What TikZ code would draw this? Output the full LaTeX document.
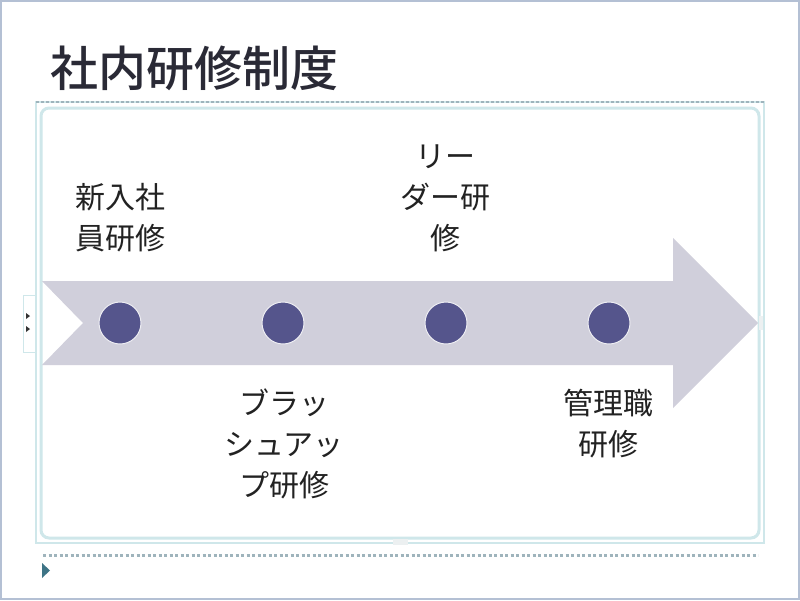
\documentclass[tikz,border=0pt]{standalone}
\usepackage{fontspec}
\newfontfamily\jpfont{Noto Sans CJK JP}
\newfontfamily\jptitlefont{Noto Sans CJK JP Medium}
\definecolor{slideedge}{HTML}{B4C0D4}
\definecolor{boxline}{HTML}{CFE7EA}
\definecolor{boxdash}{HTML}{9FB4BC}
\definecolor{arrowfill}{HTML}{D0CFDB}
\definecolor{dotfill}{HTML}{55558C}
\definecolor{labeltext}{HTML}{222222}
\definecolor{titletext}{HTML}{2A2A36}
\definecolor{marker}{HTML}{3E7486}
\tikzset{
  stagedot/.style={circle, fill=dotfill, draw=white!90!dotfill, line width=1pt,
    minimum size=42pt, inner sep=0pt},
  stagelabel/.style={align=center, inner sep=0pt, text=labeltext,
    font=\jpfont\fontsize{30}{41}\selectfont},
}
\begin{document}
\begin{tikzpicture}[x=1pt, y=-1pt, line cap=round]

	% constants
	\pgfmathsetmacro{\bodytop}{281};
	\pgfmathsetmacro{\bodybot}{365};
	\pgfmathsetmacro{\midline}{323};
	\pgfmathsetmacro{\headx}{673};
	\pgfmathsetmacro{\headtop}{238};
	\pgfmathsetmacro{\headbot}{408};

	\useasboundingbox (0,0) rectangle (800,600);
	\fill[white] (0,0) rectangle (800,600);

	% slide edge
	\draw[slideedge, line width=2pt] (1,1) rectangle (799,599);

	% title
	\node[anchor=west, inner sep=0pt, text=titletext,
		font=\jptitlefont\fontsize{48}{48}\selectfont] (title) at (50,68) {社内研修制度};

	% placeholder frame
	\draw[boxline, line width=1.5pt] (36,102) rectangle (764,543);
	\draw[boxdash, line width=2pt, dash pattern=on 3pt off 2pt, line cap=butt]
		(36,102) -- (764,102);
	\draw[boxline, line width=3pt, rounded corners=8pt] (41,108) rectangle (759,538);
	\fill[white!80!boxdash] (393,539) rectangle (408,545);
	\fill[white!80!boxdash] (759,316) rectangle (763,330);
	\draw[boxline, fill=white, line width=1pt] (23,295) rectangle (35,352);
	\fill[black!80] (26,313) -- (30,316) -- (26,319) -- cycle;
	\fill[black!80] (26,326) -- (30,329) -- (26,332) -- cycle;

	% arrow
	\fill[arrowfill] (42,\bodytop) -- (\headx,\bodytop) -- (\headx,\headtop)
		-- (758,\midline) -- (\headx,\headbot) -- (\headx,\bodybot)
		-- (42,\bodybot) -- (83,\midline) -- cycle;

	% stages
	\node[stagedot] (dotnew) at (120,\midline) {};
	\node[stagedot] (dotbrush) at (283,\midline) {};
	\node[stagedot] (dotleader) at (446,\midline) {};
	\node[stagedot] (dotmanager) at (609,\midline) {};

	\node[stagelabel] (labelnew) at (120,217.5) {新入社\\員研修};
	\node[stagelabel] (labelleader) at (445,198) {リー\\ダー研\\修};
	\node[stagelabel] (labelbrush) at (284,444) {ブラッ\\シュアッ\\プ研修};
	\node[stagelabel] (labelmanager) at (608,423.5) {管理職\\研修};

	% notes bar
	\draw[boxdash, line width=3pt, dash pattern=on 3pt off 2.5pt, line cap=butt]
		(43,555) -- (758,555);
	\fill[marker] (42,563) -- (50,570.5) -- (42,578) -- cycle;

\end{tikzpicture}
\end{document}
